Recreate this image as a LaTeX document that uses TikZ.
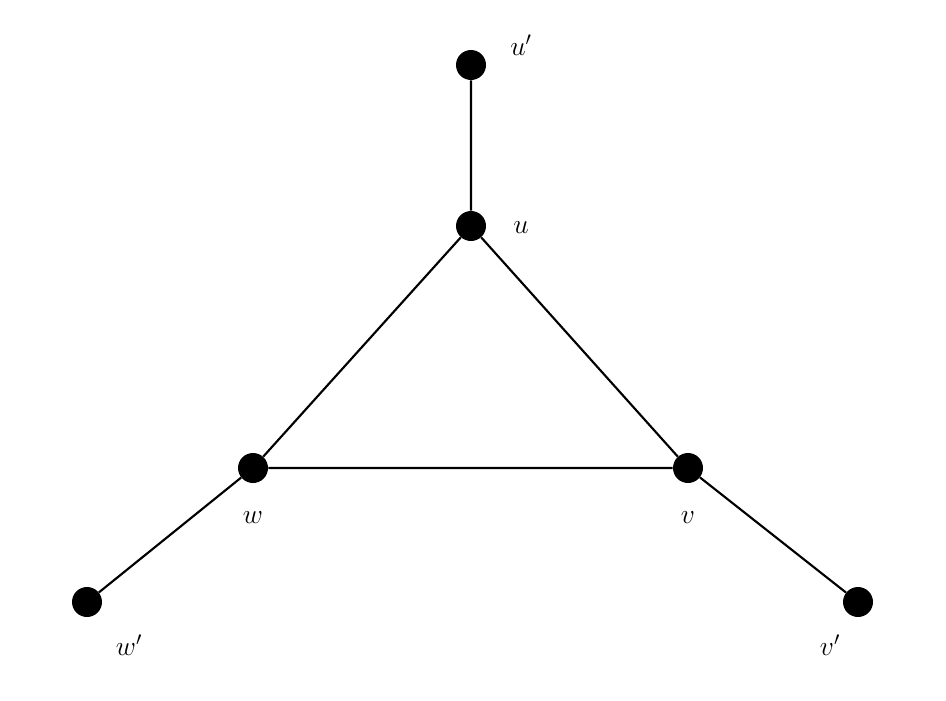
\documentclass[tikz,border=0pt]{standalone}
\begin{document}
\begin{tikzpicture}[x=0.75pt,y=-0.75pt,
  vtx/.style={circle,fill=black,inner sep=0pt,minimum size=22.5pt},
  lbl/.style={font=\fontsize{22}{26}\selectfont},
  edge/.style={line width=1.6pt}]
\useasboundingbox (0,0) rectangle (946,700);
\node[vtx] (up) at (471,65) {};
\node[vtx] (u) at (471,226) {};
\node[vtx] (w) at (253,468) {};
\node[vtx] (v) at (688,468) {};
\node[vtx] (wp) at (87,602) {};
\node[vtx] (vp) at (858,602) {};
\draw[edge] (up)--(u) (u)--(w) (u)--(v) (w)--(v) (w)--(wp) (v)--(vp);
\node[lbl] (lup) at (521,45) {$u'$};
\node[lbl] (lu) at (521,228) {$u$};
\node[lbl] (lw) at (253,518) {$w$};
\node[lbl] (lv) at (688,518) {$v$};
\node[lbl] (lwp) at (129,645) {$w'$};
\node[lbl] (lvp) at (830,645) {$v'$};
\end{tikzpicture}
\end{document}
